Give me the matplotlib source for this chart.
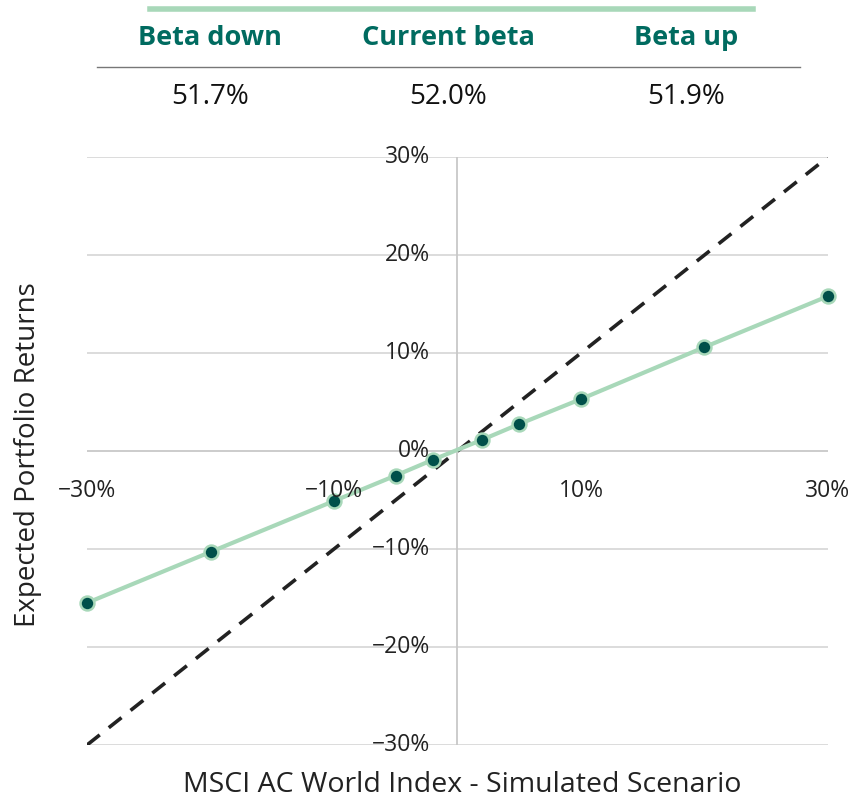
import matplotlib
matplotlib.use("Agg")
import matplotlib.pyplot as plt
from matplotlib.lines import Line2D

plt.rcParams['font.family'] = ['Open Sans', 'DejaVu Sans']

# Data
market_scenario = [-30, -20, -10, -5, -2, 2, 5, 10, 20, 30]
portfolio_return = [-15.5, -10.3, -5.1, -2.5, -0.9, 1.15, 2.75, 5.3, 10.6, 15.8]
diag_x = [-30, 30]
diag_y = [-30, 30]
header_labels = ["Beta down", "Current beta", "Beta up"]
header_values = ["51.7%", "52.0%", "51.9%"]
x_ticks = [-30, -10, 10, 30]
y_ticks = [-30, -20, -10, 0, 10, 20, 30]

GREEN = "#a8d8b9"
DARK = "#00504a"
TEAL = "#006b60"
GRID = "#d9d9d9"

fig = plt.figure(figsize=(8.53, 8.06), dpi=100)
ax = fig.add_axes([87/853, 1-745/806, (828-87)/853, (745-157)/806])
ax.set_xlim(-30, 30)
ax.set_ylim(-30, 30)

for y in y_ticks:
    if y != 0:
        ax.axhline(y, color=GRID, lw=1.3, zorder=0)
ax.axhline(0, color="#c8c8c8", lw=1.3, zorder=0)
ax.axvline(0, color="#c8c8c8", lw=1.3, zorder=0)

ax.plot(diag_x, diag_y, color="#222222", lw=2.6, ls=(0, (4.5, 3.2)), zorder=2)
ax.plot(market_scenario, portfolio_return, color=GREEN, lw=3, zorder=3,
        marker="o", markersize=10, markerfacecolor=DARK,
        markeredgecolor=GREEN, markeredgewidth=1.8, clip_on=False)

for s in ax.spines.values():
    s.set_visible(False)
ax.set_xticks([])
ax.set_yticks([])

for y in y_ticks:
    ax.text(-2.2, y, f"{y}%".replace("-", "\u2212"), ha="right", va="center",
            fontsize=16.5, color="#222222")
for x in x_ticks:
    ax.text(x, -4.1, f"{x}%".replace("-", "\u2212"),
            ha="center", va="center", fontsize=16.5, color="#222222")

fig.text(28/853, 1-455/806, "Expected Portfolio Returns", rotation=90,
         ha="center", va="center", fontsize=20, color="#222222")
fig.text(462/853, 1-785/806, "MSCI AC World Index - Simulated Scenario",
         ha="center", va="center", fontsize=20.5, color="#222222")

# Top table
fig.add_artist(Line2D([150/853, 753/853], [1-9/806, 1-9/806], color=GREEN, lw=4))
fig.add_artist(Line2D([97/853, 800/853], [1-67/806, 1-67/806], color="#777777", lw=1))
centers = [210, 448, 686]
for cx, lab, val in zip(centers, header_labels, header_values):
    fig.text(cx/853, 1-38/806, lab, ha="center", va="center", fontsize=19.5,
             fontweight="bold", color=TEAL)
    fig.text(cx/853, 1-97/806, val, ha="center", va="center", fontsize=20,
             color="#111111")

fig.savefig("out.png", dpi=100)
